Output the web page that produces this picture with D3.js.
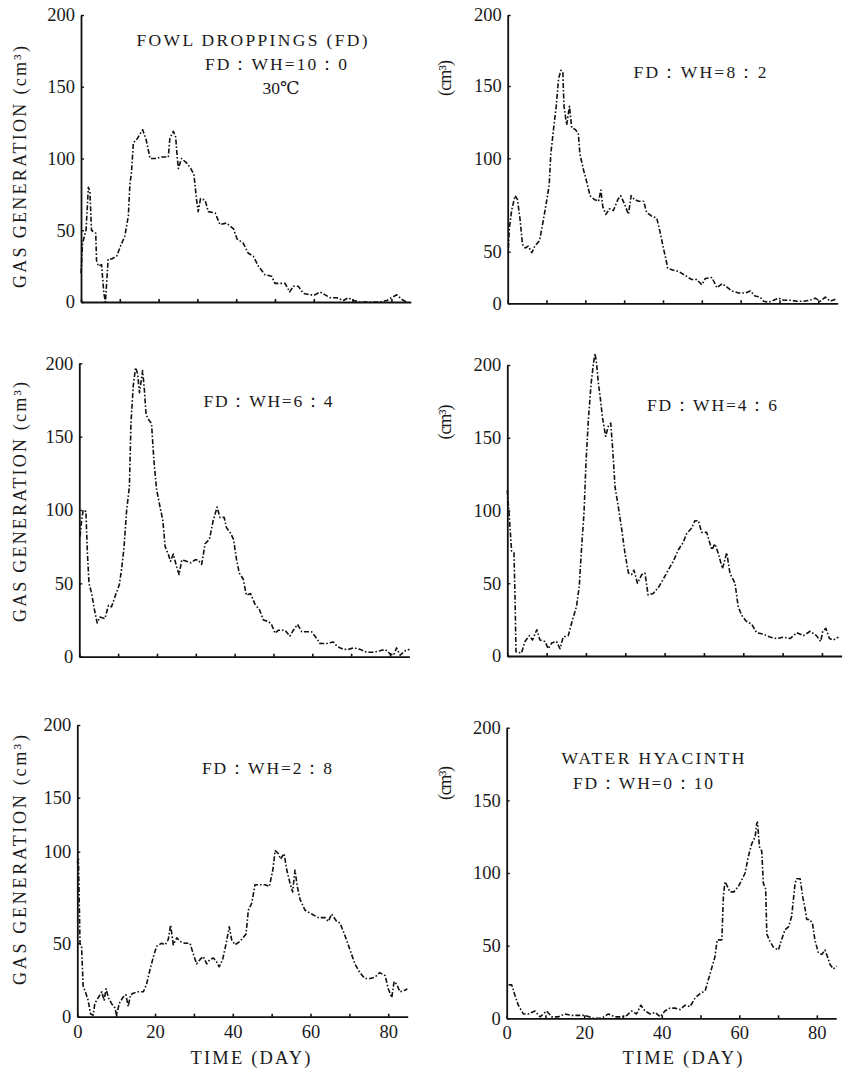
<!DOCTYPE html>
<html>
<head>
<meta charset="utf-8">
<script src="https://cdn.jsdelivr.net/npm/d3@7"></script>
<style>
  body { margin: 0; background: #fff; }
  svg { display: block; }
  text { font-family: "Liberation Serif", "DejaVu Serif", serif; fill: #1a1a1a; }
</style>
</head>
<body>
<div id="chart"></div>
<script>
// Gas generation (cm3) per day as [day, value]
const fd10wh0 = [[0,20],[0.4,41],[0.8,45],[1.3,50],[1.9,80],[2.3,77],[2.7,50],[3.8,48],[4,29],[4.5,25],[5.3,26],
  [5.9,6],[6.3,0],[6.6,13],[7,30],[7.9,30],[9.2,32],[10.2,39],[11.3,46],[12.2,60],[12.6,82],[13,90],[13.5,111],
  [14.3,113],[15.2,117],[15.9,120],[16.8,113],[17.8,100],[18.6,100],[19.5,100],[20.4,101],[21.6,101],[22.5,101],
  [22.9,114],[23.8,119],[24.4,115],[24.8,101],[25.1,93],[25.9,100],[27.2,97],[28.3,93],[29.1,89],[29.8,71],[30.2,63],
  [30.8,72],[32,71],[32.8,63],[34.6,62],[35.8,54],[37.5,55],[39.3,51],[40.2,44],[41.8,41],[43.1,34],[44.4,32],
  [45.7,25],[47.4,19],[49.1,18],[50,13],[51.3,13],[52.6,13],[53.8,7],[54.7,11],[56,11],[57.3,6],[59,5],[60.3,5],
  [61.6,7],[62.9,5],[64.2,3],[65.9,3],[67.6,1],[68.9,3],[70.2,1],[71.9,0],[73.6,0],[75.3,0],[77,0],[78.8,1],
  [80,3],[81.4,5],[82.6,2],[83.9,0]];

const fd8wh2 = [[0.2,52],[0.4,62],[1,72],[1.9,80],[2.5,78],[3.2,67],[3.8,54],[4.5,52],[5.3,53],[6.2,49],[7,53],
  [8.2,56],[9.2,67],[10.1,78],[10.7,86],[11.1,103],[11.8,120],[12.5,136],[13.1,155],[13.7,161],[14.2,160],
  [14.5,136],[15.2,123],[15.9,136],[16.5,121],[17.4,120],[18.2,117],[18.6,103],[19.5,94],[20.4,87],[21.2,80],
  [22.3,78],[23.4,77],[24,83],[24.5,74],[25.3,70],[26.2,73],[27.2,72],[28.4,78],[29.1,80],[30.2,75],[31.1,70],
  [31.8,80],[32.6,78],[33.7,77],[35,77],[35.8,71],[37.1,69],[38.4,68],[39.3,60],[40.1,52],[40.8,42],[41.2,34],
  [42.7,32],[44,31],[45.7,27],[47.4,23],[48.7,23],[50,18],[50.9,24],[52.6,25],[53.9,15],[55.2,19],[56.4,16],
  [57.7,12],[59.5,10],[61.2,10],[62.5,12],[63.7,7],[65,6],[65.9,2],[67.2,1],[68.5,3],[69.8,5],[71.1,3],[72.8,3],
  [74.5,2],[76.2,2],[77.9,3],[79.2,5],[80.5,2],[81.8,6],[83.1,2],[84.4,4]];

const fd6wh4 = [[0.2,82],[0.6,93],[1,100],[1.7,99],[2.1,70],[2.5,50],[3.2,43],[3.9,32],[4.6,23],[5.3,27],[6.6,26],
  [7.5,35],[8.3,34],[9.2,41],[10.3,49],[10.9,60],[11.5,74],[12.2,100],[12.9,116],[13.3,159],[13.9,185],[14.5,197],
  [15,193],[15.5,180],[16.3,195],[16.7,184],[17.2,165],[18,161],[18.6,159],[19.2,134],[19.9,114],[20.8,102],
  [21.5,93],[22.1,75],[22.9,70],[23.5,65],[24.2,70],[25.1,61],[25.7,56],[26.4,66],[27.6,65],[28.7,64],[29.8,66],
  [30.6,66],[31.5,63],[32.4,77],[33.5,80],[34.5,93],[35.5,102],[36.2,95],[37.3,95],[37.9,88],[39,84],[39.7,80],
  [40.5,66],[41.2,57],[42.2,53],[43,42],[44.1,43],[45.2,36],[46.4,32],[47.4,25],[48.7,24],[49.5,22],[50.4,16],
  [51.2,18],[53,18],[54.2,14],[55.1,18],[56.2,22],[57.3,17],[58.5,17],[59.8,17],[60.7,14],[62,9],[63.7,9],
  [65.4,10],[66.4,7],[68,5],[69.3,5],[70.6,6],[72.3,5],[74,3],[75.7,3],[77.4,4],[78.7,5],[80,2],[80.9,1],
  [81.7,6],[82.6,1],[83.9,4],[85,5]];

const fd4wh6 = [[0,114],[0.5,96],[1.1,72],[1.7,71],[2,36],[2.2,3],[3.6,2],[4.5,10],[5.6,14],[6.4,11],[7.5,18],
  [8.3,11],[9.6,10],[10.4,5],[11.3,9],[12.5,10],[13.4,5],[14.2,13],[15.5,14],[16.6,25],[17.6,34],[18.3,48],
  [18.9,75],[19.5,98],[20,132],[20.6,162],[21.3,187],[21.9,201],[22.3,208],[22.7,201],[23.1,189],[23.7,176],
  [24.2,164],[25,151],[25.7,158],[26.3,160],[26.8,142],[27.4,116],[28.2,103],[29.1,87],[29.9,71],[30.8,57],
  [31.6,56],[32.2,59],[33.1,50],[34.2,56],[35,57],[35.8,42],[37.1,43],[38.4,47],[39.7,53],[40.9,59],[42.2,65],
  [43.5,73],[44.7,78],[45.6,84],[46.9,88],[47.7,93],[48.6,93],[49.4,85],[50.7,85],[52,73],[52.8,77],[53.6,71],
  [54.7,60],[55.8,71],[56.6,57],[57.9,50],[58.7,34],[59.6,28],[60.7,24],[62.1,22],[63.4,16],[65.1,15],[66.8,13],
  [68.5,12],[70.2,13],[71.9,12],[73.6,16],[75.3,14],[77,17],[78.6,14],[79.7,10],[80.2,17],[81,19],[81.9,12],
  [82.9,11],[84.2,13]];

const fd2wh8 = [[0,94],[0.3,96],[0.7,50],[1.1,48],[1.5,21],[2.2,16],[2.8,11],[3.4,2],[4.1,1],[4.5,9],[5.4,13],
  [6.3,17],[6.9,11],[7.4,19],[8,13],[8.8,9],[9.7,6],[10.1,1],[10.8,9],[11.7,13],[12.5,15],[13.1,7],[13.7,15],
  [14.4,16],[15.7,17],[17,17],[17.8,22],[18.7,32],[19.6,41],[20.4,48],[21.7,50],[22.6,49],[23.4,52],[24,60],
  [24.7,49],[25.6,53],[26.4,51],[27.7,50],[29,50],[29.8,43],[30.7,36],[31.6,39],[32.4,41],[33.3,36],[34.1,39],
  [35,40],[35.7,38],[36.5,34],[37.4,39],[38.3,50],[39.1,59],[39.7,52],[40.6,49],[41.8,51],[43.4,55],[44,68],
  [44.9,72],[45.7,82],[47,82],[48.3,82],[49.4,81],[50.3,90],[50.9,101],[51.7,99],[52.3,96],[53.2,99],[53.9,90],
  [54.7,83],[55.4,78],[56,90],[56.6,81],[57.3,74],[58.6,68],[60.3,66],[62,64],[63.7,64],[64.6,62],[65.4,66],
  [66.7,62],[67.6,61],[68.9,54],[70.1,46],[71.4,36],[72.7,30],[74,26],[75.3,26],[76.6,27],[77.8,30],[79.2,28],
  [80,19],[80.9,13],[81.5,24],[82.2,22],[83,17],[84.3,18],[84.9,19]];

const fd0wh10 = [[0.5,23],[1.3,23],[2.1,16],[3,9],[4.3,3],[5.6,3],[7.3,5],[8.6,1],[10.3,5],[11.6,1],[13.3,1],
  [15,3],[16.8,2],[18.5,2],[20.2,2],[22.4,0],[24.5,0],[26.2,3],[27.9,1],[29.7,1],[31,2],[32.2,5],[33.5,3],
  [34.6,9],[35.7,5],[37,3],[38.3,4],[39.6,1],[40.8,5],[42.1,7],[43.4,7],[44.7,6],[46,9],[47.3,8],[48.6,14],
  [49.9,17],[51.2,19],[52.5,31],[53.7,42],[54.3,54],[55.5,54],[55.9,84],[56.3,94],[56.9,91],[57.6,87],[58.6,87],
  [59.8,91],[60.6,95],[61.5,100],[62.3,111],[63.2,120],[64.1,125],[64.5,134],[64.7,135],[65.2,118],[65.8,115],
  [66.2,93],[66.8,89],[67.1,58],[67.9,53],[68.8,49],[70.1,47],[70.9,54],[71.8,61],[72.7,63],[73.5,70],[74.4,93],
  [74.8,96],[75.7,96],[76.4,83],[77,75],[77.4,68],[78.2,68],[78.9,65],[79.5,54],[80.4,45],[81.3,44],[82.1,47],
  [82.8,42],[83.4,37],[84.3,34],[85.1,36]];

const yTicks = [0, 50, 100, 150, 200];
const xTicks = [0, 10, 20, 30, 40, 50, 60, 70, 80];
const xLabels = [0, 20, 40, 60, 80];

const svg = d3.select("#chart").append("svg")
    .attr("width", 860)
    .attr("height", 1070);

const panels = [
  { data: fd10wh0, x0: 81, x1: 410.8, yDom: [0, 200], yRng: [302, 15],
    titles: [["FOWL DROPPINGS (FD)", 252, 40, 231], ["FD：WH=10：0", 276, 64, 142], ["30℃", 281, 88, 37]],
    yLabel: ["GAS GENERATION (cm³)", 20, 167, 242] },
  { data: fd8wh2, x0: 507.7, x1: 837.7, yDom: [0, 50, 100, 150, 200], yRng: [303.3, 251.7, 158.3, 86, 15],
    titles: [["FD：WH=8：2", 700, 72, 133]],
    yLabel: ["(cm³)", 445, 78, 36] },
  { data: fd6wh4, x0: 79.3, x1: 409.4, yDom: [0, 200], yRng: [656.7, 363.3],
    titles: [["FD：WH=6：4", 268, 401, 129]],
    yLabel: ["GAS GENERATION (cm³)", 20, 502, 240] },
  { data: fd4wh6, x0: 507.3, x1: 841.6, yDom: [0, 200], yRng: [656, 365],
    titles: [["FD：WH=4：6", 712, 405, 130]],
    yLabel: ["(cm³)", 445, 422, 35] },
  { data: fd2wh8, x0: 77.3, x1: 407.7, yDom: [0, 50, 100, 150, 200], yRng: [1016.7, 943.3, 851.7, 797.7, 725],
    titles: [["FD：WH=2：8", 267, 768, 130]],
    yLabel: ["GAS GENERATION (cm³)", 20, 860, 250], bottom: true },
  { data: fd0wh10, x0: 506.7, x1: 836.2, yDom: [0, 200], yRng: [1018.3, 727.7],
    titles: [["WATER HYACINTH", 653, 758, 183], ["FD：WH=0：10", 643, 783, 140]],
    yLabel: ["(cm³)", 445, 783, 34], bottom: true }
];

function drawPanel(p) {
  const g = svg.append("g");

  const x = d3.scaleLinear().domain([0, 85]).range([p.x0, p.x1]);
  const y = d3.scaleLinear().domain(p.yDom).range(p.yRng);

  // x axis with inward ticks
  const xAxis = g.append("g")
      .attr("transform", `translate(0,${y(0)})`)
      .call(d3.axisBottom(x)
        .tickValues(xTicks)
        .tickSizeInner(-3)
        .tickSizeOuter(0)
        .tickPadding(8)
        .tickFormat(d => (p.bottom && xLabels.includes(d)) ? d : ""));
  xAxis.select(".domain").attr("stroke", "#111").attr("stroke-width", 1.8);
  xAxis.selectAll(".tick line").attr("stroke", "#111").attr("stroke-width", 1.6);
  xAxis.selectAll(".tick text")
      .style("font-size", "18.5px")
      .style("font-family", "Liberation Serif, serif");

  const yAxis = g.append("g")
      .attr("transform", `translate(${p.x0},0)`)
      .call(d3.axisLeft(y)
        .tickValues(yTicks)
        .tickSizeInner(-3)
        .tickSizeOuter(0)
        .tickPadding(6));
  yAxis.select(".domain").attr("stroke", "#111").attr("stroke-width", 1.8);
  yAxis.selectAll(".tick line").attr("stroke", "#111").attr("stroke-width", 1.4);
  yAxis.selectAll(".tick text")
      .style("font-size", "18.5px")
      .style("font-family", "Liberation Serif, serif");

  const line = d3.line()
      .x(d => x(d[0]))
      .y(d => y(d[1]));

  g.append("path")
      .datum(p.data)
      .attr("fill", "none")
      .attr("stroke", "#111")
      .attr("stroke-width", 1.6)
      .attr("stroke-dasharray", "5 2 1.6 2")
      .attr("stroke-linejoin", "round")
      .attr("d", line);

  p.titles.forEach(t => {
    g.append("text")
        .attr("x", t[1] - t[3] / 2)
        .attr("y", t[2])
        .attr("dy", "0.35em")
        .attr("textLength", t[3])
        .attr("lengthAdjust", "spacing")
        .style("font-size", "17.5px")
        .text(t[0]);
  });

  g.append("text")
      .attr("transform", `translate(${p.yLabel[1]},${p.yLabel[2]}) rotate(-90)`)
      .attr("x", -p.yLabel[3] / 2)
      .attr("dy", "0.35em")
      .attr("textLength", p.yLabel[3])
      .attr("lengthAdjust", "spacing")
      .style("font-size", "18px")
      .text(p.yLabel[0]);

  if (p.bottom) {
    g.append("text")
        .attr("x", (p.x0 + p.x1) / 2 - 60 + (p.x0 > 400 ? 11 : 8))
        .attr("y", 1058)
        .attr("dy", "0.35em")
        .attr("textLength", 120)
        .attr("lengthAdjust", "spacing")
        .style("font-size", "18.5px")
        .text("TIME (DAY)");
  }
}

panels.forEach(drawPanel);
</script>
</body>
</html>
